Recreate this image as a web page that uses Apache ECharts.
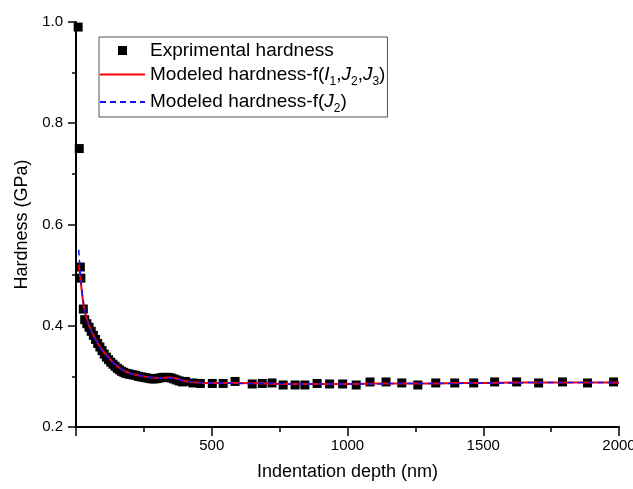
<!DOCTYPE html>
<html>
<head>
<meta charset="utf-8">
<script src="https://cdn.jsdelivr.net/npm/echarts@6/dist/echarts.min.js"></script>
<style>
html,body{margin:0;padding:0;background:#fff;}
#chart{width:633px;height:489px;}
</style>
</head>
<body>
<div id="chart"></div>
<script>
// Experimental hardness: depth (nm), hardness (GPa)
const expDepth = [8, 12, 16, 18, 27, 32, 40, 48, 56, 64, 72, 80, 88, 96, 104, 112, 120, 128, 136, 144, 152, 160, 168, 176, 184, 192, 200, 210, 220, 230, 240, 250, 260, 270, 280, 290, 300, 310, 320, 330, 340, 350, 360, 370, 380, 392, 403, 430, 458, 502, 542, 586, 649, 686, 722, 763, 807, 843, 888, 934, 982, 1032, 1083, 1142, 1200, 1259, 1325, 1395, 1465, 1542, 1623, 1704, 1792, 1884, 1980];
const expHard = [0.99, 0.75, 0.516, 0.494, 0.433, 0.412, 0.404, 0.397, 0.389, 0.381, 0.373, 0.365, 0.358, 0.351, 0.344, 0.338, 0.333, 0.328, 0.324, 0.320, 0.316, 0.313, 0.310, 0.308, 0.306, 0.305, 0.304, 0.303, 0.302, 0.300, 0.299, 0.298, 0.297, 0.296, 0.295, 0.295, 0.296, 0.297, 0.298, 0.298, 0.298, 0.297, 0.295, 0.293, 0.291, 0.289, 0.290, 0.287, 0.286, 0.286, 0.286, 0.290, 0.285, 0.286, 0.287, 0.283, 0.283, 0.283, 0.286, 0.285, 0.285, 0.283, 0.289, 0.289, 0.287, 0.283, 0.287, 0.287, 0.287, 0.289, 0.289, 0.287, 0.289, 0.287, 0.289];

// Modeled hardness f(I1,J2,J3) (red solid)
const modADepth = [10, 15, 20, 25, 30, 35, 45, 60, 80, 100, 125, 150, 175, 200, 250, 300, 340, 370, 400, 450, 500, 600, 700, 800, 900, 1000, 1100, 1200, 1300, 1400, 1500, 1600, 1700, 1800, 1900, 2000];
const modAHard = [0.52, 0.50, 0.475, 0.452, 0.435, 0.422, 0.405, 0.386, 0.366, 0.350, 0.334, 0.321, 0.312, 0.306, 0.300, 0.297, 0.298, 0.296, 0.291, 0.288, 0.287, 0.287, 0.286, 0.285, 0.285, 0.285, 0.286, 0.286, 0.286, 0.287, 0.287, 0.288, 0.288, 0.288, 0.288, 0.288];

// Modeled hardness f(J2) (blue dashed)
const modBDepth = [10, 15, 20, 25, 30, 35, 45, 60, 80, 100, 125, 150, 175, 200, 250, 300, 340, 370, 400, 450, 500, 600, 700, 800, 900, 1000, 1100, 1200, 1300, 1400, 1500, 1600, 1700, 1800, 1900, 2000];
const modBHard = [0.55, 0.51, 0.48, 0.455, 0.436, 0.422, 0.404, 0.384, 0.364, 0.348, 0.333, 0.321, 0.312, 0.306, 0.300, 0.297, 0.297, 0.295, 0.291, 0.288, 0.287, 0.286, 0.286, 0.285, 0.285, 0.285, 0.285, 0.286, 0.286, 0.286, 0.287, 0.287, 0.288, 0.288, 0.288, 0.288];

const xTicksShown = [500, 1000, 1500, 2000];
const seriesNames = ['Exprimental hardness', 'Modeled hardness-f(I1,J2,J3)', 'Modeled hardness-f(J2)'];

const pair = (xs, ys) => xs.map((x, i) => [x, ys[i]]);
const FONT = '"Liberation Sans", Arial, sans-serif';
const noSym = {color: 'rgba(0,0,0,0)', borderWidth: 0, opacity: 0};

const chart = echarts.init(document.getElementById('chart'), null, {renderer: 'canvas'});
chart.setOption({
  backgroundColor: '#ffffff',
  animation: false,
  textStyle: {fontFamily: FONT},
  grid: {left: 76, right: 14, top: 22, bottom: 62, containLabel: false, outerBoundsMode: 'none'},
  legend: {
    orient: 'vertical',
    left: 99, top: 37,
    itemWidth: 45, itemHeight: 12, itemGap: 5,
    padding: [4, 2, 2, 0],
    borderColor: '#555', borderWidth: 1,
    data: [
      {name: seriesNames[0], icon: 'path://M0,0M45,12M18,1.5h9v9h-9z', itemStyle: {color: '#000', opacity: 1}},
      {name: seriesNames[1], itemStyle: noSym},
      {name: seriesNames[2], itemStyle: noSym}
    ],
    formatter: function (name) {
      if (name === seriesNames[1]) return 'Modeled hardness-f({i|I}{s|1},{i|J}{s|2},{i|J}{s|3})';
      if (name === seriesNames[2]) return 'Modeled hardness-f({i|J}{s|2})';
      return name;
    },
    textStyle: {
      fontFamily: FONT, fontSize: 19, color: '#000',
      rich: {
        i: {fontFamily: FONT, fontSize: 19, fontStyle: 'italic', color: '#000'},
        s: {fontFamily: FONT, fontSize: 12, color: '#000', padding: [14, 0, 0, 0]}
      }
    }
  },
  xAxis: {
    type: 'value', min: 0, max: 2000, interval: 500,
    name: 'Indentation depth (nm)', nameLocation: 'middle', nameGap: 36,
    nameTextStyle: {fontFamily: FONT, fontSize: 18, color: '#000'},
    axisLine: {onZero: false, lineStyle: {color: '#000', width: 2}},
    axisTick: {inside: false, length: 9, lineStyle: {color: '#000', width: 1.5}},
    minorTick: {show: true, splitNumber: 2, length: 5, lineStyle: {color: '#000', width: 1.5}},
    axisLabel: {
      fontFamily: FONT, fontSize: 15, color: '#000', margin: 11,
      formatter: v => xTicksShown.indexOf(v) >= 0 ? String(v) : ''
    },
    splitLine: {show: false}
  },
  yAxis: {
    type: 'value', min: 0.2, max: 1.0, interval: 0.2,
    name: 'Hardness (GPa)', nameLocation: 'middle', nameGap: 40, nameRotate: 90,
    nameTextStyle: {fontFamily: FONT, fontSize: 18, color: '#000'},
    axisLine: {show: true, onZero: false, lineStyle: {color: '#000', width: 2}},
    axisTick: {show: true, inside: false, length: 8, lineStyle: {color: '#000', width: 1.5}},
    minorTick: {show: true, splitNumber: 2, length: 4, lineStyle: {color: '#000', width: 1.5}},
    axisLabel: {fontFamily: FONT, fontSize: 15, color: '#000', margin: 13, formatter: v => v.toFixed(1)},
    splitLine: {show: false}
  },
  series: [
    {
      name: seriesNames[0], type: 'scatter', symbol: 'rect', symbolSize: 9,
      itemStyle: {color: '#000', opacity: 1}, z: 2,
      data: pair(expDepth, expHard)
    },
    {
      name: seriesNames[1], type: 'line', showSymbol: false, symbol: 'none', smooth: 0.3,
      lineStyle: {color: '#ff0000', width: 2}, itemStyle: {color: '#ff0000'}, z: 3,
      data: pair(modADepth, modAHard)
    },
    {
      name: seriesNames[2], type: 'line', showSymbol: false, symbol: 'none', smooth: 0.3,
      lineStyle: {color: '#1010ff', width: 1.5, type: [6, 4]}, itemStyle: {color: '#1010ff'}, z: 4,
      data: pair(modBDepth, modBHard)
    }
  ]
});
</script>
</body>
</html>
